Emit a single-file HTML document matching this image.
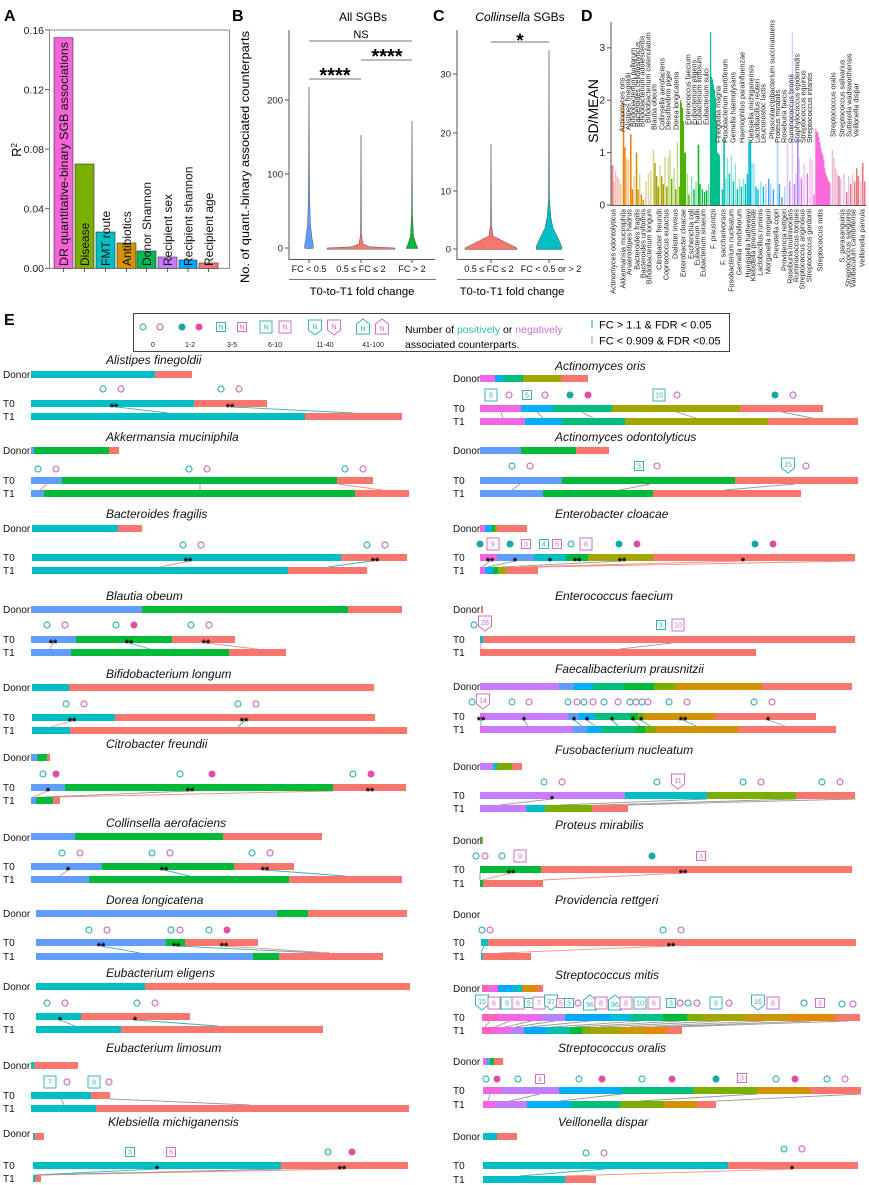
<!DOCTYPE html>
<html><head><meta charset="utf-8">
<style>
html,body{margin:0;padding:0;background:#fff;}
svg{display:block;}
text{font-family:"Liberation Sans",Arial,sans-serif;}
.pl{font-weight:bold;font-size:16px;}
.tk{font-size:10px;fill:#222;}
.lb{font-size:10px;fill:#111;}
.ti{font-size:12px;font-style:italic;fill:#111;}
.st{font-size:11px;font-weight:bold;fill:#000;text-anchor:middle;}
.c{fill:#00BFC4}.r{fill:#F8766D}.b{fill:#619CFF}.g{fill:#00BA38}.m{fill:#F564E3}
.lbl{fill:#00B0F6}.tg{fill:#00BF7D}.o{fill:#A3A500}.p{fill:#C77CFF}.go{fill:#D39200}.yg{fill:#7CAE00}
.oc{fill:none;stroke:#3AB3B3;stroke-width:1.2}
.op{fill:none;stroke:#CF6FC6;stroke-width:1.2}
.fc{fill:#17A8A8}.fp{fill:#DD4FA6}
.sqt{fill:#fff;stroke:#3AB3B3;stroke-width:1}
.sqp{fill:#fff;stroke:#CF6FC6;stroke-width:1}
.nt{font-size:7px;fill:#3AB3B3;text-anchor:middle}
.np{font-size:7px;fill:#CF6FC6;text-anchor:middle}
.lg{stroke:#9a9a9a;stroke-width:0.9}
.lt{stroke:#3AB3B3;stroke-width:0.9}
.lp{stroke:#EE8F88;stroke-width:0.9}
.dl{font-size:7.2px;fill:#222;}
.f{fill-opacity:.45}
</style></head>
<body>
<svg width="869" height="1185" viewBox="0 0 869 1185" xmlns="http://www.w3.org/2000/svg">
<rect width="869" height="1185" fill="#fff"/>

<!-- ============ PANEL A ============ -->
<text class="pl" x="4" y="21">A</text>
<rect x="49.5" y="30" width="180" height="238.3" fill="none" stroke="#888" stroke-width="1"/>
<g stroke="#666" stroke-width="1">
<line x1="45" y1="30" x2="49" y2="30"/><line x1="45" y1="89.6" x2="49" y2="89.6"/><line x1="45" y1="149.2" x2="49" y2="149.2"/><line x1="45" y1="208.7" x2="49" y2="208.7"/><line x1="45" y1="268.3" x2="49" y2="268.3"/>
<line x1="63.5" y1="268" x2="63.5" y2="272"/><line x1="84.5" y1="268" x2="84.5" y2="272"/><line x1="105.5" y1="268" x2="105.5" y2="272"/><line x1="126.5" y1="268" x2="126.5" y2="272"/><line x1="146.5" y1="268" x2="146.5" y2="272"/><line x1="167.5" y1="268" x2="167.5" y2="272"/><line x1="188" y1="268" x2="188" y2="272"/><line x1="208.5" y1="268" x2="208.5" y2="272"/>
</g>
<g class="tk" text-anchor="end" style="font-size:10.5px">
<text x="44" y="34">0.16</text><text x="44" y="93.5">0.12</text><text x="44" y="153">0.08</text><text x="44" y="212.5">0.04</text><text x="44" y="272">0.00</text>
</g>
<text transform="translate(21,150) rotate(-90)" text-anchor="middle" style="font-size:13px">R<tspan dy="-4" style="font-size:8px">2</tspan></text>
<g stroke="#333" stroke-width="0.6">
<rect x="54" y="37.7" width="19" height="230.6" fill="#F564D8"/>
<rect x="75" y="164" width="19" height="104.3" fill="#7CAE00"/>
<rect x="96" y="232" width="19" height="36.3" fill="#00BFC4"/>
<rect x="117" y="243" width="19" height="25.3" fill="#D39200"/>
<rect x="137" y="251" width="19" height="17.3" fill="#00B954"/>
<rect x="158" y="257" width="19" height="11.3" fill="#C77CFF"/>
<rect x="179" y="260" width="18" height="8.3" fill="#00A9FF"/>
<rect x="199" y="263" width="19" height="5.3" fill="#F8766D"/>
</g>
<g style="font-size:12px" fill="#111">
<text transform="translate(67.8,266) rotate(-90)" textLength="224" lengthAdjust="spacingAndGlyphs">DR quantitative-binary SGB associations</text>
<text transform="translate(88.8,266) rotate(-90)">Disease</text>
<text transform="translate(109.8,266) rotate(-90)">FMT route</text>
<text transform="translate(130.8,266) rotate(-90)">Antibiotics</text>
<text transform="translate(150.8,266) rotate(-90)">Donor Shannon</text>
<text transform="translate(171.8,266) rotate(-90)">Recipient sex</text>
<text transform="translate(192.3,266) rotate(-90)">Recipient shannon</text>
<text transform="translate(212.8,266) rotate(-90)">Recipient age</text>
</g>

<!-- ============ PANEL B ============ -->
<text class="pl" x="232" y="21">B</text>
<text x="363" y="21" text-anchor="middle" style="font-size:12px">All SGBs</text>
<text transform="translate(249,157) rotate(-90)" text-anchor="middle" style="font-size:12px" textLength="252" lengthAdjust="spacingAndGlyphs">No. of quant.-binary associated counterparts</text>
<g stroke="#555" stroke-width="1">
<line x1="289" y1="30" x2="289" y2="259.5"/>
<line x1="288.5" y1="259.5" x2="435" y2="259.5"/>
<line x1="285" y1="248" x2="289" y2="248"/><line x1="285" y1="174" x2="289" y2="174"/><line x1="285" y1="100" x2="289" y2="100"/>
<line x1="309" y1="259.5" x2="309" y2="263"/><line x1="361" y1="259.5" x2="361" y2="263"/><line x1="412" y1="259.5" x2="412" y2="263"/>
</g>
<g class="tk" text-anchor="end" style="font-size:9.5px"><text x="283" y="251.5">0</text><text x="283" y="177.5">100</text><text x="283" y="103.5">200</text></g>
<path d="M309,87 L309.6,200 L310.5,225 L312,238 L313.5,246 L313,248.5 L305,248.5 L304.5,246 L306,238 L307.5,225 L308.4,200 Z" fill="#619CFF" stroke="#555" stroke-width="0.5"/>
<path d="M361,135 L361.5,235 L363,244 L370,246.8 L395,248 L395,249.2 L327,249.2 L327,248 L352,246.8 L359,244 L360.5,235 Z" fill="#F8766D" stroke="#555" stroke-width="0.5"/>
<path d="M412,121 L412.5,215 L413.5,236 L416,244 L418,248.5 L406,248.5 L408,244 L410.5,236 L411.5,215 Z" fill="#00BA38" stroke="#555" stroke-width="0.5"/>
<g stroke="#777" stroke-width="1">
<line x1="309" y1="41" x2="412" y2="41"/>
<line x1="309" y1="79" x2="361" y2="79"/>
<line x1="361" y1="60" x2="412" y2="60"/>
</g>
<text x="361" y="38" text-anchor="middle" style="font-size:11px">NS</text>
<text x="335" y="82" text-anchor="middle" style="font-size:20px;font-weight:bold">****</text>
<text x="387" y="63" text-anchor="middle" style="font-size:20px;font-weight:bold">****</text>
<g style="font-size:9px" text-anchor="middle" fill="#111">
<text x="309" y="272">FC &lt; 0.5</text><text x="361" y="272">0.5 ≤ FC ≤ 2</text><text x="412" y="272">FC &gt; 2</text>
</g>
<line x1="289" y1="279.5" x2="436" y2="279.5" stroke="#777" stroke-width="1"/>
<text x="362" y="295" text-anchor="middle" style="font-size:11.3px">T0-to-T1 fold change</text>

<!-- ============ PANEL C ============ -->
<text class="pl" x="433" y="21">C</text>
<text x="520" y="21" text-anchor="middle" style="font-size:12px"><tspan font-style="italic">Collinsella</tspan> SGBs</text>
<g stroke="#555" stroke-width="1">
<line x1="457" y1="30" x2="457" y2="259.5"/>
<line x1="456.5" y1="259.5" x2="564" y2="259.5"/>
<line x1="453" y1="249" x2="457" y2="249"/><line x1="453" y1="191" x2="457" y2="191"/><line x1="453" y1="133" x2="457" y2="133"/><line x1="453" y1="74" x2="457" y2="74"/>
<line x1="491" y1="259.5" x2="491" y2="263"/><line x1="549" y1="259.5" x2="549" y2="263"/>
</g>
<g class="tk" text-anchor="end" style="font-size:9.5px"><text x="451" y="252.5">0</text><text x="451" y="194.5">10</text><text x="451" y="136.5">20</text><text x="451" y="77.5">30</text></g>
<path d="M491,144 L491.5,225 L493,236 L517,248 L517,249.5 L465,249.5 L465,248 L489,236 L490.5,225 Z" fill="#F8766D" stroke="#555" stroke-width="0.5"/>
<path d="M549,50 L549.5,200 L551,218 L553,228 L558,238 L562,247 L561.5,249.5 L536.5,249.5 L536,247 L540,238 L545,228 L547,218 L548.5,200 Z" fill="#00BFC4" stroke="#555" stroke-width="0.5"/>
<line x1="491" y1="42" x2="549" y2="42" stroke="#777" stroke-width="1"/>
<text x="520" y="47" text-anchor="middle" style="font-size:19px;font-weight:bold">*</text>
<g style="font-size:9px" text-anchor="middle" fill="#111">
<text x="489" y="272">0.5 ≤ FC ≤ 2</text><text x="551" y="272">FC &lt; 0.5 or &gt; 2</text>
</g>
<line x1="457" y1="279.5" x2="564" y2="279.5" stroke="#777" stroke-width="1"/>
<text x="512" y="295" text-anchor="middle" style="font-size:11.3px">T0-to-T1 fold change</text>

<!-- ============ PANEL D ============ -->
<text class="pl" x="581" y="21">D</text>
<text transform="translate(598,111) rotate(-90)" text-anchor="middle" style="font-size:14px">SD/MEAN</text>
<g stroke="#555" stroke-width="1">
<line x1="611" y1="22" x2="611" y2="205.5"/>
<line x1="610.5" y1="205.5" x2="866" y2="205.5"/>
<line x1="607" y1="205" x2="611" y2="205"/><line x1="607" y1="152.6" x2="611" y2="152.6"/><line x1="607" y1="100.2" x2="611" y2="100.2"/><line x1="607" y1="47.8" x2="611" y2="47.8"/>
</g>
<g class="tk" text-anchor="end" style="font-size:10px"><text x="605" y="208.5">0</text><text x="605" y="156">1</text><text x="605" y="103.6">2</text><text x="605" y="51.2">3</text></g>
<g transform="matrix(1 0 0 -52.4 0 205)">
<g fill="#F8766D"><rect x="611.7" y="0" width="1.6" height="0.76"/><rect class="f" x="613.3" y="0" width="1.4" height="0.45"/><rect class="f" x="615" y="0" width="1.4" height="0.65"/><rect class="f" x="616.7" y="0" width="1.4" height="0.55"/><rect class="f" x="618.3" y="0" width="1.4" height="0.5"/></g>
<g fill="#E8860C"><rect class="f" x="620" y="0" width="1.4" height="0.4"/><rect x="622.7" y="0" width="1.6" height="1.95"/><rect x="624.3" y="0" width="1.4" height="1.1"/><rect class="f" x="626" y="0" width="1.4" height="0.9"/><rect class="f" x="627.7" y="0" width="1.4" height="0.85"/><rect x="630" y="0" width="1.6" height="1.35"/><rect x="631.7" y="0" width="1.4" height="0.3"/><rect class="f" x="633.3" y="0" width="1.4" height="0.55"/></g>
<g fill="#C99800"><rect x="635.7" y="0" width="1.6" height="1.0"/><rect x="637.3" y="0" width="1.4" height="0.3"/><rect class="f" x="639" y="0" width="1.4" height="0.6"/><rect x="640.7" y="0" width="1.4" height="0.2"/><rect x="642.7" y="0" width="1.4" height="0.1"/><rect class="f" x="645.3" y="0" width="1.4" height="0.45"/><rect class="f" x="647.7" y="0" width="1.4" height="0.6"/></g>
<g fill="#A3A500"><rect class="f" x="650" y="0" width="1.4" height="0.65"/><rect class="f" x="652.7" y="0" width="1.6" height="1.05"/><rect x="654.3" y="0" width="1.4" height="0.8"/><rect x="656" y="0" width="1.4" height="0.55"/><rect x="657.7" y="0" width="1.4" height="0.35"/><rect class="f" x="659.3" y="0" width="1.4" height="0.75"/><rect x="661" y="0" width="1.4" height="0.55"/><rect x="662.7" y="0" width="1.4" height="0.4"/><rect class="f" x="664.3" y="0" width="1.4" height="0.92"/><rect x="666" y="0" width="1.4" height="0.35"/></g>
<g fill="#7CAE00"><rect class="f" x="667.7" y="0" width="1.4" height="0.9"/><rect class="f" x="669.3" y="0" width="1.4" height="1.05"/><rect x="671" y="0" width="1.4" height="0.5"/><rect class="f" x="673.3" y="0" width="1.4" height="0.7"/><rect x="675" y="0" width="1.4" height="0.3"/><rect class="f" x="676.7" y="0" width="1.4" height="1.2"/><rect x="678.7" y="0" width="1.4" height="0.35"/></g>
<g fill="#4CB400"><rect x="680" y="0" width="1.1" height="2.0"/><rect x="681" y="0" width="1.1" height="1.95"/><rect x="682" y="0" width="1.1" height="1.85"/><rect x="683" y="0" width="1.1" height="1.6"/><rect x="684" y="0" width="1.1" height="1.0"/><rect x="685" y="0" width="1.1" height="1.0"/><rect class="f" x="686.7" y="0" width="1.4" height="0.6"/><rect x="688.3" y="0" width="1.4" height="0.2"/></g>
<g fill="#00BA38"><rect class="f" x="691" y="0" width="1.4" height="0.55"/><rect x="693.3" y="0" width="1.4" height="0.3"/><rect class="f" x="695.3" y="0" width="1.4" height="0.45"/><rect x="697.7" y="0" width="1.6" height="1.15"/><rect x="699.3" y="0" width="1.4" height="0.4"/><rect x="701.7" y="0" width="1.4" height="0.3"/><rect x="704" y="0" width="1.4" height="0.25"/><rect x="706" y="0" width="1.4" height="0.28"/><rect class="f" x="708" y="0" width="1.4" height="0.4"/></g>
<g fill="#00C08B"><rect x="710" y="0" width="1.1" height="3.3"/><rect x="711" y="0" width="1.1" height="2.45"/><rect x="712" y="0" width="1.1" height="2.4"/><rect x="713" y="0" width="1.1" height="2.3"/><rect x="714" y="0" width="1.1" height="2.2"/><rect x="715" y="0" width="1.1" height="2.05"/><rect x="716" y="0" width="1.1" height="1.6"/><rect x="717" y="0" width="1.1" height="1.0"/><rect x="718" y="0" width="1.1" height="0.98"/><rect x="719" y="0" width="1.1" height="0.95"/></g>
<g fill="#00C1B0"><rect x="721.7" y="0" width="1.4" height="0.3"/><rect x="723.3" y="0" width="1.6" height="1.3"/><rect class="f" x="725" y="0" width="1.4" height="0.5"/><rect class="f" x="726.7" y="0" width="1.4" height="0.9"/><rect x="728.7" y="0" width="1.4" height="0.6"/><rect class="f" x="730.7" y="0" width="1.4" height="0.95"/><rect x="732.7" y="0" width="1.4" height="0.45"/><rect class="f" x="734.7" y="0" width="1.4" height="0.8"/><rect x="736.7" y="0" width="1.4" height="0.3"/><rect class="f" x="738.7" y="0" width="1.4" height="0.5"/><rect x="740.7" y="0" width="1.4" height="0.35"/><rect class="f" x="742.7" y="0" width="1.4" height="0.5"/><rect x="744.7" y="0" width="1.4" height="0.4"/></g>
<g fill="#00BCD8"><rect x="746.7" y="0" width="1.4" height="0.6"/><rect x="748.3" y="0" width="1.5" height="1.2"/><rect x="749.7" y="0" width="1.5" height="1.2"/><rect class="f" x="751.3" y="0" width="1.4" height="0.8"/><rect class="f" x="753.3" y="0" width="1.4" height="0.8"/><rect x="755.3" y="0" width="1.4" height="0.35"/><rect x="757.3" y="0" width="1.4" height="0.3"/><rect class="f" x="760" y="0" width="1.4" height="0.45"/><rect x="762.7" y="0" width="1.4" height="0.35"/></g>
<g fill="#3DA0FF"><rect class="f" x="765.3" y="0" width="1.4" height="0.4"/><rect x="768" y="0" width="1.4" height="0.5"/><rect class="f" x="770" y="0" width="1.4" height="0.4"/><rect x="772.7" y="0" width="1.4" height="0.3"/><rect class="f" x="776.7" y="0" width="1.6" height="1.2"/><rect x="778.7" y="0" width="1.4" height="0.4"/><rect x="781.3" y="0" width="1.4" height="0.15"/><rect class="f" x="784" y="0" width="1.4" height="0.35"/></g>
<g fill="#B983FF"><rect class="f" x="786.7" y="0" width="1.6" height="1.15"/><rect x="789" y="0" width="1.4" height="0.45"/><rect class="f" x="791.7" y="0" width="1.4" height="3.3"/><rect x="793.7" y="0" width="1.4" height="0.4"/><rect class="f" x="795.3" y="0" width="1.4" height="0.6"/><rect x="797" y="0" width="1.6" height="1.25"/><rect class="f" x="798.7" y="0" width="1.4" height="0.9"/></g>
<g fill="#E76BF3"><rect x="800.7" y="0" width="1.4" height="0.5"/><rect class="f" x="803.3" y="0" width="1.4" height="0.8"/><rect x="806.7" y="0" width="1.4" height="0.6"/><rect class="f" x="809.3" y="0" width="1.4" height="0.9"/><rect class="f" x="811.3" y="0" width="1.4" height="0.85"/><rect x="813.3" y="0" width="1.4" height="0.2"/></g>
<g fill="#FB61D7"><rect x="815.3" y="0" width="1.1" height="1.45"/><rect x="816.3" y="0" width="1.1" height="1.4"/><rect x="817.3" y="0" width="1.1" height="1.38"/><rect x="818.3" y="0" width="1.1" height="1.3"/><rect x="819.3" y="0" width="1.1" height="1.2"/><rect x="820.3" y="0" width="1.1" height="1.1"/><rect x="821.3" y="0" width="1.1" height="1.0"/><rect x="822.3" y="0" width="1.1" height="0.95"/><rect x="823.3" y="0" width="1.1" height="0.85"/><rect x="824.3" y="0" width="1.1" height="0.7"/><rect x="825.3" y="0" width="1.1" height="0.6"/><rect x="826.3" y="0" width="1.1" height="0.55"/><rect x="827.3" y="0" width="1.1" height="0.5"/><rect x="828.3" y="0" width="1.1" height="0.45"/><rect x="829.3" y="0" width="1.1" height="0.42"/></g>
<g fill="#E06D9C"><rect class="f" x="831.7" y="0" width="1.4" height="1.05"/><rect class="f" x="833.3" y="0" width="1.4" height="0.9"/><rect class="f" x="835" y="0" width="1.4" height="0.7"/><rect class="f" x="836.7" y="0" width="1.4" height="0.6"/><rect x="838.3" y="0" width="1.4" height="0.55"/><rect class="f" x="840" y="0" width="1.4" height="0.5"/><rect class="f" x="843.3" y="0" width="1.4" height="0.6"/><rect x="846" y="0" width="1.4" height="0.25"/><rect class="f" x="848" y="0" width="1.4" height="0.55"/><rect x="850" y="0" width="1.4" height="0.4"/></g>
<g fill="#F0707E"><rect class="f" x="852" y="0" width="1.4" height="0.6"/><rect x="854" y="0" width="1.4" height="0.45"/><rect x="856" y="0" width="1.5" height="0.7"/><rect x="857.7" y="0" width="1.4" height="0.55"/><rect class="f" x="860" y="0" width="1.4" height="0.45"/><rect x="862" y="0" width="1.5" height="0.8"/><rect x="864" y="0" width="1.4" height="0.45"/></g>
</g>
<!-- D top labels -->
<g class="dl">
<text transform="translate(624.5,132) rotate(-90)">Actinomyces oris</text>
<text transform="translate(630.5,130) rotate(-90)">Alistipes finegoldii</text>
<text transform="translate(635.5,127) rotate(-90)">Bifidobacterium pullorum</text>
<text transform="translate(640,127) rotate(-90)">Bacteroides cellulosilyticus</text>
<text transform="translate(644.5,127) rotate(-90)">Bifidobacterium adolescentis</text>
<text transform="translate(650.5,123) rotate(-90)">Bifidobacterium catenulatum</text>
<text transform="translate(656.5,130) rotate(-90)">Blautia obeum</text>
<text transform="translate(664.5,130) rotate(-90)">Collinsella aerofaciens</text>
<text transform="translate(670.5,130) rotate(-90)">Desulfovibrio piger</text>
<text transform="translate(678.5,130) rotate(-90)">Dorea longicatena</text>
<text transform="translate(690.5,125) rotate(-90)">Enterococcus faecium</text>
<text transform="translate(696.5,125) rotate(-90)">Eubacterium eligens</text>
<text transform="translate(701.5,125) rotate(-90)">Eubacterium limosum</text>
<text transform="translate(708.5,125) rotate(-90)">Eubacterium sulci</text>
<text transform="translate(720.5,143) rotate(-90)">Finegoldia magna</text>
<text transform="translate(727.5,143) rotate(-90)">Fusobacterium mortiferum</text>
<text transform="translate(735.5,143) rotate(-90)">Gemella haemolysans</text>
<text transform="translate(744.5,143) rotate(-90)">Haemophilus parainfluenzae</text>
<text transform="translate(753.5,143) rotate(-90)">Klebsiella michiganensis</text>
<text transform="translate(759.5,143) rotate(-90)">Lactobacillus reuteri</text>
<text transform="translate(765.5,143) rotate(-90)">Leuconostoc lactis</text>
<text transform="translate(774.5,139) rotate(-90)">Phascolarctobacterium succinatutens</text>
<text transform="translate(780,143) rotate(-90)">Proteus mirabilis</text>
<text transform="translate(786.5,143) rotate(-90)">Roseburia faecis</text>
<text transform="translate(793.5,143) rotate(-90)">Ruminococcus bromii</text>
<text transform="translate(799.5,143) rotate(-90)">Staphylococcus epidermidis</text>
<text transform="translate(805.5,143) rotate(-90)">Streptococcus equinus</text>
<text transform="translate(812,143) rotate(-90)">Streptococcus infantis</text>
<text transform="translate(835.5,137) rotate(-90)">Streptococcus oralis</text>
<text transform="translate(844.5,137) rotate(-90)">Streptococcus salivarius</text>
<text transform="translate(851.5,137) rotate(-90)">Sutterella wadsworthensis</text>
<text transform="translate(858.5,137) rotate(-90)">Veillonella dispar</text>
</g>
<!-- D bottom labels -->
<g class="dl" text-anchor="end">
<text transform="translate(615.5,209) rotate(-90)">Actinomyces odontolyticus</text>
<text transform="translate(625.5,209) rotate(-90)">Akkermansia muciniphila</text>
<text transform="translate(631.5,209) rotate(-90)">Anaerostipes hadrus</text>
<text transform="translate(639.5,209) rotate(-90)">Bacteroides fragilis</text>
<text transform="translate(645.5,209) rotate(-90)">Bacteroides uniformis</text>
<text transform="translate(651.5,209) rotate(-90)">Bifidobacterium longum</text>
<text transform="translate(661.5,209) rotate(-90)">Citrobacter freundii</text>
<text transform="translate(668.5,209) rotate(-90)">Coprococcus eutactus</text>
<text transform="translate(677.5,209) rotate(-90)">Dialister invisus</text>
<text transform="translate(685.5,209) rotate(-90)">Enterobacter cloacae</text>
<text transform="translate(693.5,209) rotate(-90)">Escherichia coli</text>
<text transform="translate(699.5,209) rotate(-90)">Eubacterium hallii</text>
<text transform="translate(705.5,209) rotate(-90)">Eubacterium siraeum</text>
<text transform="translate(715.5,209) rotate(-90)">F. prausnitzii</text>
<text transform="translate(725.5,209) rotate(-90)">F. saccharivorans</text>
<text transform="translate(733.5,209) rotate(-90)">Fusobacterium nucleatum</text>
<text transform="translate(741.5,209) rotate(-90)">Gemella morbillorum</text>
<text transform="translate(750.5,209) rotate(-90)">Hungatella hathewayi</text>
<text transform="translate(755.5,209) rotate(-90)">Klebsiella pneumoniae</text>
<text transform="translate(762.5,209) rotate(-90)">Lactobacillus ruminis</text>
<text transform="translate(770.5,209) rotate(-90)">Morganella morganii</text>
<text transform="translate(778.5,209) rotate(-90)">Prevotella copri</text>
<text transform="translate(786.5,209) rotate(-90)">Providencia rettgeri</text>
<text transform="translate(792.5,209) rotate(-90)">Roseburia inulinivorans</text>
<text transform="translate(798.5,209) rotate(-90)">Ruminococcus torques</text>
<text transform="translate(804.5,209) rotate(-90)">Streptococcus anginosus</text>
<text transform="translate(811.5,209) rotate(-90)">Streptococcus gordonii</text>
<text transform="translate(822.5,209) rotate(-90)">Streptococcus mitis</text>
<text transform="translate(844.5,209) rotate(-90)">S. parasanguinis</text>
<text transform="translate(850.5,209) rotate(-90)">Streptococcus sanguinis</text>
<text transform="translate(855.5,209) rotate(-90)">Varibaculum cambriense</text>
<text transform="translate(864.5,209) rotate(-90)">Veillonella parvula</text>
</g>

<!-- ============ PANEL E ============ -->
<text class="pl" x="4" y="325">E</text>
<rect x="133.5" y="313.5" width="596" height="38" fill="#fff" stroke="#444" stroke-width="1"/>
<circle class="oc" cx="143" cy="327" r="3"/><circle class="op" cx="160" cy="327" r="3"/>
<circle class="fc" cx="182" cy="327" r="3.5"/><circle class="fp" cx="199" cy="327" r="3.5"/>
<rect class="sqt" x="216.5" y="322.5" width="9" height="9"/><text class="nt" x="221" y="329.5">N</text>
<rect class="sqp" x="237.5" y="322.5" width="9" height="9"/><text class="np" x="242" y="329.5">N</text>
<rect class="sqt" x="260" y="321" width="12" height="12"/><text class="nt" x="266" y="329.5">N</text>
<rect class="sqp" x="279" y="321" width="12" height="12"/><text class="np" x="285" y="329.5">N</text>
<path class="sqt" d="M308.5,320 h13 v10 l-6.5,5 l-6.5,-5 z"/><text class="nt" x="315" y="329">N</text>
<path class="sqp" d="M327.5,320 h13 v10 l-6.5,5 l-6.5,-5 z"/><text class="np" x="334" y="329">N</text>
<path class="sqt" d="M356.5,334 h13 v-10 l-6.5,-5 l-6.5,5 z"/><text class="nt" x="363" y="331">N</text>
<path class="sqp" d="M375.5,334 h13 v-10 l-6.5,-5 l-6.5,5 z"/><text class="np" x="382" y="331">N</text>
<g style="font-size:7px" text-anchor="middle" fill="#222">
<text x="153" y="347">0</text><text x="190" y="347">1-2</text><text x="232" y="347">3-5</text><text x="275" y="347">6-10</text><text x="325" y="347">11-40</text><text x="373" y="347">41-100</text>
</g>
<text x="405" y="333" style="font-size:10.5px">Number of <tspan fill="#3AB3B3">positively</tspan> or <tspan fill="#CF6FC6">negatively</tspan></text>
<text x="405" y="348" style="font-size:10.5px">associated counterparts.</text>
<line x1="592" y1="320" x2="592" y2="328" stroke="#3AB3B3" stroke-width="1.2"/>
<line x1="592" y1="336" x2="592" y2="344" stroke="#EE8F88" stroke-width="1.2"/>
<text x="599" y="328.5" style="font-size:11px">FC &gt; 1.1 &amp; FDR &lt; 0.05</text>
<text x="599" y="344.5" style="font-size:11px">FC &lt; 0.909 &amp; FDR &lt;0.05</text>

<!-- ---------- LEFT COLUMN ---------- -->
<!-- L1 Alistipes -->
<text class="ti" x="106" y="364">Alistipes finegoldii</text>
<text class="lb" x="3" y="378">Donor</text><text class="lb" x="3" y="407">T0</text><text class="lb" x="3" y="420">T1</text>
<rect class="c" x="31" y="371" width="124" height="7"/><rect class="r" x="155" y="371" width="37" height="7"/>
<circle class="oc" cx="103" cy="389" r="3"/><circle class="op" cx="121" cy="389" r="3"/><circle class="oc" cx="221" cy="389" r="3"/><circle class="op" cx="239" cy="389" r="3"/>
<line class="lt" x1="117" y1="407" x2="168" y2="413"/><line class="lt" x1="233" y1="407" x2="353" y2="413"/>
<rect class="c" x="31" y="400" width="163" height="7"/><rect class="r" x="194" y="400" width="73" height="7"/>
<rect class="c" x="31" y="413" width="274" height="7"/><rect class="r" x="305" y="413" width="97" height="7"/>
<text class="st" x="114" y="411">**</text><text class="st" x="230" y="411">**</text>

<!-- L2 Akkermansia -->
<text class="ti" x="106" y="441">Akkermansia muciniphila</text>
<text class="lb" x="3" y="454">Donor</text><text class="lb" x="3" y="484">T0</text><text class="lb" x="3" y="497">T1</text>
<rect class="b" x="31" y="447" width="3" height="7"/><rect class="g" x="34" y="447" width="75" height="7"/><rect class="r" x="109" y="447" width="10" height="7"/>
<circle class="oc" cx="38" cy="469" r="3"/><circle class="op" cx="56" cy="469" r="3"/><circle class="oc" cx="189" cy="469" r="3"/><circle class="op" cx="207" cy="469" r="3"/><circle class="oc" cx="345" cy="469" r="3"/><circle class="op" cx="363" cy="469" r="3"/>
<line class="lp" x1="47" y1="484" x2="40" y2="490"/><line class="lg" x1="200" y1="484" x2="200" y2="490"/><line class="lp" x1="338" y1="484" x2="382" y2="490"/>
<rect class="b" x="31" y="477" width="31" height="7"/><rect class="g" x="62" y="477" width="275" height="7"/><rect class="r" x="337" y="477" width="36" height="7"/>
<rect class="b" x="31" y="490" width="13" height="7"/><rect class="g" x="44" y="490" width="311" height="7"/><rect class="r" x="355" y="490" width="54" height="7"/>

<!-- L3 Bacteroides -->
<text class="ti" x="106" y="518">Bacteroides fragilis</text>
<text class="lb" x="3" y="532">Donor</text><text class="lb" x="3" y="561">T0</text><text class="lb" x="3" y="574">T1</text>
<rect class="c" x="32" y="525" width="86" height="7"/><rect class="r" x="118" y="525" width="24" height="7"/>
<circle class="oc" cx="183" cy="545" r="3"/><circle class="op" cx="201" cy="545" r="3"/><circle class="oc" cx="367" cy="545" r="3"/><circle class="op" cx="385" cy="545" r="3"/>
<line class="lp" x1="190" y1="561" x2="160" y2="567"/><line class="lt" x1="372" y1="561" x2="328" y2="567"/>
<rect class="c" x="32" y="554" width="309" height="7"/><rect class="r" x="341" y="554" width="66" height="7"/>
<rect class="c" x="32" y="567" width="256" height="7"/><rect class="r" x="288" y="567" width="79" height="7"/>
<text class="st" x="188" y="565">**</text><text class="st" x="375" y="565">**</text>

<!-- L4 Blautia -->
<text class="ti" x="106" y="600">Blautia obeum</text>
<text class="lb" x="3" y="613">Donor</text><text class="lb" x="3" y="643">T0</text><text class="lb" x="3" y="656">T1</text>
<rect class="b" x="31" y="606" width="111" height="7"/><rect class="g" x="142" y="606" width="206" height="7"/><rect class="r" x="348" y="606" width="54" height="7"/>
<circle class="oc" cx="47" cy="625" r="3"/><circle class="op" cx="65" cy="625" r="3"/><circle class="oc" cx="116" cy="625" r="3"/><circle class="fp" cx="134" cy="625" r="3.5"/><circle class="oc" cx="191" cy="625" r="3"/><circle class="op" cx="209" cy="625" r="3"/>
<line class="lp" x1="53" y1="643" x2="50" y2="649"/><line class="lt" x1="129" y1="643" x2="150" y2="649"/><line class="lp" x1="206" y1="643" x2="257" y2="649"/>
<rect class="b" x="31" y="636" width="45" height="7"/><rect class="g" x="76" y="636" width="96" height="7"/><rect class="r" x="172" y="636" width="63" height="7"/>
<rect class="b" x="31" y="649" width="40" height="7"/><rect class="g" x="71" y="649" width="158" height="7"/><rect class="r" x="229" y="649" width="57" height="7"/>
<text class="st" x="53" y="647">**</text><text class="st" x="129" y="647">**</text><text class="st" x="206" y="647">**</text>

<!-- L5 Bifidobacterium -->
<text class="ti" x="106" y="678">Bifidobacterium longum</text>
<text class="lb" x="3" y="691">Donor</text><text class="lb" x="3" y="721">T0</text><text class="lb" x="3" y="734">T1</text>
<rect class="c" x="32" y="684" width="37" height="7"/><rect class="r" x="69" y="684" width="305" height="7"/>
<circle class="oc" cx="66" cy="704" r="3"/><circle class="op" cx="84" cy="704" r="3"/><circle class="oc" cx="238" cy="704" r="3"/><circle class="op" cx="256" cy="704" r="3"/>
<line class="lp" x1="72" y1="721" x2="51" y2="727"/><line class="lt" x1="244" y1="721" x2="238" y2="727"/>
<rect class="c" x="32" y="714" width="83" height="7"/><rect class="r" x="115" y="714" width="260" height="7"/>
<rect class="c" x="32" y="727" width="38" height="7"/><rect class="r" x="70" y="727" width="337" height="7"/>
<text class="st" x="72" y="725">**</text><text class="st" x="244" y="725">**</text>

<!-- L6 Citrobacter -->
<text class="ti" x="106" y="748">Citrobacter freundii</text>
<text class="lb" x="3" y="761">Donor</text><text class="lb" x="3" y="791">T0</text><text class="lb" x="3" y="804">T1</text>
<rect class="b" x="31" y="754" width="6" height="7"/><rect class="g" x="37" y="754" width="10" height="7"/><rect class="r" x="47" y="754" width="3" height="7"/>
<circle class="oc" cx="43" cy="774" r="3"/><circle class="fp" cx="56" cy="774" r="3.5"/><circle class="oc" cx="180" cy="774" r="3"/><circle class="fp" cx="212" cy="774" r="3.5"/><circle class="oc" cx="353" cy="774" r="3"/><circle class="fp" cx="371" cy="774" r="3.5"/>
<line class="lp" x1="47" y1="791" x2="33" y2="797"/><line class="lg" x1="190" y1="791" x2="45" y2="797"/><line class="lp" x1="333" y1="791" x2="58" y2="797"/>
<rect class="b" x="31" y="784" width="34" height="7"/><rect class="g" x="65" y="784" width="268" height="7"/><rect class="r" x="333" y="784" width="73" height="7"/>
<rect class="b" x="31" y="797" width="5" height="7"/><rect class="g" x="36" y="797" width="17" height="7"/><rect class="r" x="53" y="797" width="7" height="7"/>
<text class="st" x="48" y="795">*</text><text class="st" x="190" y="795">**</text><text class="st" x="370" y="795">**</text>

<!-- L7 Collinsella -->
<text class="ti" x="106" y="827">Collinsella aerofaciens</text>
<text class="lb" x="3" y="841">Donor</text><text class="lb" x="3" y="870">T0</text><text class="lb" x="3" y="883">T1</text>
<rect class="b" x="31" y="833" width="44" height="7"/><rect class="g" x="75" y="833" width="148" height="7"/><rect class="r" x="223" y="833" width="99" height="7"/>
<circle class="oc" cx="62" cy="853" r="3"/><circle class="op" cx="80" cy="853" r="3"/><circle class="oc" cx="152" cy="853" r="3"/><circle class="op" cx="170" cy="853" r="3"/><circle class="oc" cx="252" cy="853" r="3"/><circle class="op" cx="270" cy="853" r="3"/>
<line class="lp" x1="68" y1="870" x2="60" y2="876"/><line class="lt" x1="164" y1="870" x2="190" y2="876"/><line class="lt" x1="265" y1="870" x2="345" y2="876"/>
<rect class="b" x="31" y="863" width="71" height="7"/><rect class="g" x="102" y="863" width="132" height="7"/><rect class="r" x="234" y="863" width="60" height="7"/>
<rect class="b" x="31" y="876" width="58" height="7"/><rect class="g" x="89" y="876" width="200" height="7"/><rect class="r" x="289" y="876" width="113" height="7"/>
<text class="st" x="68" y="874">*</text><text class="st" x="164" y="874">**</text><text class="st" x="265" y="874">**</text>

<!-- L8 Dorea -->
<text class="ti" x="106" y="904">Dorea longicatena</text>
<text class="lb" x="3" y="917">Donor</text><text class="lb" x="3" y="946">T0</text><text class="lb" x="3" y="960">T1</text>
<rect class="b" x="36" y="910" width="241" height="7"/><rect class="g" x="277" y="910" width="31" height="7"/><rect class="r" x="308" y="910" width="99" height="7"/>
<circle class="oc" cx="89" cy="930" r="3"/><circle class="op" cx="107" cy="930" r="3"/><circle class="oc" cx="171" cy="930" r="3"/><circle class="op" cx="180" cy="930" r="3"/><circle class="oc" cx="209" cy="930" r="3"/><circle class="fp" cx="227" cy="930" r="3.5"/>
<line class="lt" x1="101" y1="946" x2="140" y2="953"/><line class="lt" x1="176" y1="946" x2="320" y2="953"/><line class="lp" x1="224" y1="946" x2="330" y2="953"/>
<rect class="b" x="36" y="939" width="130" height="7"/><rect class="g" x="166" y="939" width="19" height="7"/><rect class="r" x="185" y="939" width="73" height="7"/>
<rect class="b" x="36" y="953" width="217" height="7"/><rect class="g" x="253" y="953" width="26" height="7"/><rect class="r" x="279" y="953" width="104" height="7"/>
<text class="st" x="101" y="950">**</text><text class="st" x="176" y="950">**</text><text class="st" x="224" y="950">**</text>

<!-- L9 Eubacterium eligens -->
<text class="ti" x="106" y="977">Eubacterium eligens</text>
<text class="lb" x="3" y="990">Donor</text><text class="lb" x="3" y="1020">T0</text><text class="lb" x="3" y="1033">T1</text>
<rect class="c" x="36" y="983" width="109" height="7"/><rect class="r" x="145" y="983" width="265" height="7"/>
<circle class="oc" cx="47" cy="1003" r="3"/><circle class="op" cx="65" cy="1003" r="3"/><circle class="oc" cx="137" cy="1003" r="3"/><circle class="op" cx="155" cy="1003" r="3"/>
<line class="lt" x1="60" y1="1020" x2="75" y2="1026"/><line class="lt" x1="135" y1="1020" x2="218" y2="1026"/>
<rect class="c" x="36" y="1013" width="45" height="7"/><rect class="r" x="81" y="1013" width="109" height="7"/>
<rect class="c" x="36" y="1026" width="85" height="7"/><rect class="r" x="121" y="1026" width="202" height="7"/>
<text class="st" x="60" y="1024">*</text><text class="st" x="135" y="1024">*</text>

<!-- L10 Eubacterium limosum -->
<text class="ti" x="106" y="1052">Eubacterium limosum</text>
<text class="lb" x="3" y="1069">Donor</text><text class="lb" x="3" y="1099">T0</text><text class="lb" x="3" y="1112">T1</text>
<rect class="c" x="31" y="1062" width="3" height="7"/><rect class="r" x="34" y="1062" width="44" height="7"/>
<rect class="sqt" x="44" y="1076" width="12" height="12"/><text class="nt" x="50" y="1084.5">7</text>
<circle class="op" cx="67" cy="1082" r="3"/>
<rect class="sqt" x="88" y="1076" width="12" height="12"/><text class="nt" x="94" y="1084.5">9</text>
<circle class="op" cx="109" cy="1082" r="3"/>
<line class="lg" x1="61" y1="1099" x2="64" y2="1105"/><line class="lg" x1="110" y1="1099" x2="250" y2="1105"/>
<rect class="c" x="31" y="1092" width="60" height="7"/><rect class="r" x="91" y="1092" width="19" height="7"/>
<rect class="c" x="31" y="1105" width="65" height="7"/><rect class="r" x="96" y="1105" width="313" height="7"/>

<!-- L11 Klebsiella -->
<text class="ti" x="108" y="1126">Klebsiella michiganensis</text>
<text class="lb" x="3" y="1137">Donor</text><text class="lb" x="3" y="1169">T0</text><text class="lb" x="3" y="1182">T1</text>
<rect class="c" x="33" y="1133" width="1.5" height="7"/><rect class="r" x="34.5" y="1133" width="9.5" height="7"/>
<rect class="sqt" x="125.5" y="1147.5" width="9" height="9"/><text class="nt" x="130" y="1154.5">3</text>
<rect class="sqp" x="166.5" y="1147.5" width="9" height="9"/><text class="np" x="171" y="1154.5">5</text>
<circle class="oc" cx="328" cy="1152" r="3"/><circle class="fp" cx="352" cy="1152" r="3.5"/>
<line class="lt" x1="157" y1="1169" x2="34" y2="1175"/><line class="lp" x1="342" y1="1169" x2="40" y2="1175"/><line class="lg" x1="281" y1="1169" x2="36" y2="1175"/>
<rect class="c" x="33" y="1162" width="248" height="7"/><rect class="r" x="281" y="1162" width="127" height="7"/>
<rect class="c" x="33" y="1175" width="2" height="7"/><rect class="r" x="35" y="1175" width="6" height="7"/>
<text class="st" x="157" y="1173">*</text><text class="st" x="342" y="1173">**</text>

<!-- ---------- RIGHT COLUMN ---------- -->
<!-- R1 Actinomyces oris -->
<text class="ti" x="555" y="370">Actinomyces oris</text>
<text class="lb" x="453" y="382">Donor</text><text class="lb" x="453" y="412">T0</text><text class="lb" x="453" y="425">T1</text>
<rect class="m" x="480" y="375" width="15" height="7"/><rect class="lbl" x="495" y="375" width="8" height="7"/><rect class="tg" x="503" y="375" width="20" height="7"/><rect class="o" x="523" y="375" width="38" height="7"/><rect class="r" x="561" y="375" width="27" height="7"/>
<rect class="sqt" x="485" y="389" width="12" height="12"/><text class="nt" x="491" y="397.5">8</text>
<circle class="op" cx="509" cy="395" r="3"/>
<rect class="sqt" x="522.5" y="390.5" width="9" height="9"/><text class="nt" x="527" y="397.5">5</text>
<circle class="op" cx="545" cy="395" r="3"/><circle class="fc" cx="570" cy="395" r="3.5"/><circle class="fp" cx="588" cy="395" r="3.5"/>
<rect class="sqt" x="653" y="389" width="12" height="12"/><text class="nt" x="659" y="397.5">10</text>
<circle class="op" cx="677" cy="395" r="3"/><circle class="fc" cx="775" cy="395" r="3.5"/><circle class="op" cx="793" cy="395" r="3"/>
<g class="lg"><line x1="501" y1="412" x2="503" y2="418"/><line x1="537" y1="412" x2="543" y2="418"/><line x1="582" y1="412" x2="593" y2="418"/><line x1="676" y1="412" x2="696" y2="418"/><line x1="782" y1="412" x2="812" y2="418"/></g>
<rect class="m" x="480" y="405" width="41" height="7"/><rect class="lbl" x="521" y="405" width="32" height="7"/><rect class="tg" x="553" y="405" width="59" height="7"/><rect class="o" x="612" y="405" width="128" height="7"/><rect class="r" x="740" y="405" width="83" height="7"/>
<rect class="m" x="480" y="418" width="45" height="7"/><rect class="lbl" x="525" y="418" width="37" height="7"/><rect class="tg" x="562" y="418" width="63" height="7"/><rect class="o" x="625" y="418" width="143" height="7"/><rect class="r" x="768" y="418" width="90" height="7"/>

<!-- R2 Actinomyces odontolyticus -->
<text class="ti" x="555" y="441">Actinomyces odontolyticus</text>
<text class="lb" x="453" y="454">Donor</text><text class="lb" x="453" y="484">T0</text><text class="lb" x="453" y="497">T1</text>
<rect class="b" x="480" y="447" width="41" height="7"/><rect class="g" x="521" y="447" width="55" height="7"/><rect class="r" x="576" y="447" width="33" height="7"/>
<circle class="oc" cx="512" cy="466" r="3"/><circle class="op" cx="530" cy="466" r="3"/>
<rect class="sqt" x="634.5" y="461.5" width="9" height="9"/><text class="nt" x="639" y="468.5">3</text>
<circle class="op" cx="657" cy="466" r="3"/>
<path class="sqt" d="M781.5,458 h13 v10 l-6.5,5 l-6.5,-5 z"/><text class="nt" x="788" y="467">15</text>
<circle class="op" cx="806" cy="466" r="3"/>
<g class="lg"><line x1="520" y1="484" x2="512" y2="490"/><line x1="650" y1="484" x2="620" y2="490"/><line x1="795" y1="484" x2="725" y2="490"/></g>
<rect class="b" x="480" y="477" width="82" height="7"/><rect class="g" x="562" y="477" width="173" height="7"/><rect class="r" x="735" y="477" width="123" height="7"/>
<rect class="b" x="480" y="490" width="63" height="7"/><rect class="g" x="543" y="490" width="110" height="7"/><rect class="r" x="653" y="490" width="148" height="7"/>

<!-- R3 Enterobacter cloacae -->
<text class="ti" x="555" y="518">Enterobacter cloacae</text>
<text class="lb" x="453" y="532">Donor</text><text class="lb" x="453" y="561">T0</text><text class="lb" x="453" y="574">T1</text>
<rect class="m" x="480" y="525" width="5" height="7"/><rect class="lbl" x="485" y="525" width="7" height="7"/><rect class="g" x="492" y="525" width="3" height="7"/><rect class="o" x="495" y="525" width="2" height="7"/><rect class="r" x="497" y="525" width="30" height="7"/>
<circle class="fc" cx="480" cy="544" r="3.5"/>
<rect class="sqp" x="487" y="538" width="12" height="12"/><text class="np" x="493" y="546.5">9</text>
<circle class="fc" cx="510" cy="544" r="3.5"/>
<rect class="sqp" x="521.5" y="539.5" width="9" height="9"/><text class="np" x="526" y="546.5">3</text>
<rect class="sqt" x="539.5" y="539.5" width="9" height="9"/><text class="nt" x="544" y="546.5">4</text>
<rect class="sqp" x="552.5" y="539.5" width="9" height="9"/><text class="np" x="557" y="546.5">5</text>
<circle class="oc" cx="571" cy="544" r="3"/>
<rect class="sqp" x="580" y="538" width="12" height="12"/><text class="np" x="586" y="546.5">8</text>
<circle class="fc" cx="619" cy="544" r="3.5"/><circle class="fp" cx="637" cy="544" r="3.5"/><circle class="fc" cx="755" cy="544" r="3.5"/><circle class="fp" cx="773" cy="544" r="3.5"/>
<g class="lg"><line x1="490" y1="561" x2="482" y2="567"/><line x1="515" y1="561" x2="488" y2="567"/><line x1="622" y1="561" x2="502" y2="567"/></g>
<line class="lp" x1="743" y1="561" x2="520" y2="567"/><line class="lp" x1="855" y1="561" x2="538" y2="567"/>
<rect class="m" x="480" y="554" width="17" height="7"/><rect class="b" x="497" y="554" width="37" height="7"/><rect class="c" x="534" y="554" width="32" height="7"/><rect class="g" x="566" y="554" width="22" height="7"/><rect class="o" x="588" y="554" width="65" height="7"/><rect class="r" x="653" y="554" width="202" height="7"/>
<rect class="m" x="480" y="567" width="5" height="7"/><rect class="lbl" x="485" y="567" width="8" height="7"/><rect class="g" x="493" y="567" width="5" height="7"/><rect class="o" x="498" y="567" width="8" height="7"/><rect class="r" x="506" y="567" width="32" height="7"/>
<text class="st" x="490" y="565">**</text><text class="st" x="515" y="565">*</text><text class="st" x="550" y="565">*</text><text class="st" x="577" y="565">**</text><text class="st" x="622" y="565">**</text><text class="st" x="743" y="565">*</text>

<!-- R4 Enterococcus faecium -->
<text class="ti" x="555" y="600">Enterococcus faecium</text>
<text class="lb" x="453" y="613">Donor</text><text class="lb" x="453" y="643">T0</text><text class="lb" x="453" y="656">T1</text>
<rect class="r" x="481" y="606" width="2" height="7"/>
<circle class="oc" cx="474" cy="625" r="3"/>
<path class="sqp" d="M478.5,616 h13 v10 l-6.5,5 l-6.5,-5 z"/><text class="np" x="485" y="625">28</text>
<rect class="sqt" x="656.5" y="620.5" width="9" height="9"/><text class="nt" x="661" y="627.5">3</text>
<rect class="sqp" x="672" y="619" width="12" height="12"/><text class="np" x="678" y="627.5">10</text>
<line class="lp" x1="481" y1="643" x2="481" y2="649"/><line class="lg" x1="672" y1="643" x2="620" y2="649"/>
<rect class="c" x="480" y="636" width="3" height="7"/><rect class="r" x="483" y="636" width="372" height="7"/>
<rect class="r" x="480" y="649" width="276" height="7"/>

<!-- R5 Faecalibacterium -->
<text class="ti" x="555" y="673">Faecalibacterium prausnitzii</text>
<text class="lb" x="453" y="690">Donor</text><text class="lb" x="453" y="720">T0</text><text class="lb" x="453" y="733">T1</text>
<rect class="p" x="480" y="683" width="79" height="7"/><rect class="b" x="559" y="683" width="15" height="7"/><rect class="lbl" x="574" y="683" width="19" height="7"/><rect class="tg" x="593" y="683" width="31" height="7"/><rect class="g" x="624" y="683" width="30" height="7"/><rect class="yg" x="654" y="683" width="21" height="7"/><rect class="go" x="675" y="683" width="87" height="7"/><rect class="r" x="762" y="683" width="90" height="7"/>
<circle class="oc" cx="472" cy="702" r="3"/>
<path class="sqp" d="M476.5,694 h13 v10 l-6.5,5 l-6.5,-5 z"/><text class="np" x="483" y="703">14</text>
<circle class="oc" cx="512" cy="702" r="3"/><circle class="op" cx="529" cy="702" r="3"/><circle class="oc" cx="568" cy="702" r="3"/><circle class="op" cx="577" cy="702" r="3"/><circle class="oc" cx="584" cy="702" r="3"/><circle class="op" cx="593" cy="702" r="3"/><circle class="oc" cx="604" cy="702" r="3"/><circle class="op" cx="618" cy="702" r="3"/><circle class="oc" cx="630" cy="702" r="3"/><circle class="op" cx="636" cy="702" r="3"/><circle class="oc" cx="642" cy="702" r="3"/><circle class="op" cx="648" cy="702" r="3"/><circle class="oc" cx="669" cy="702" r="3"/><circle class="op" cx="687" cy="702" r="3"/><circle class="oc" cx="754" cy="702" r="3"/><circle class="op" cx="772" cy="702" r="3"/>
<g class="lg"><line x1="524" y1="720" x2="528" y2="726"/><line x1="587" y1="720" x2="595" y2="726"/><line x1="633" y1="720" x2="640" y2="726"/><line x1="768" y1="720" x2="785" y2="726"/></g>
<g class="lt"><line x1="481" y1="720" x2="481" y2="726"/><line x1="574" y1="720" x2="582" y2="726"/><line x1="612" y1="720" x2="618" y2="726"/><line x1="641" y1="720" x2="650" y2="726"/><line x1="683" y1="720" x2="696" y2="726"/></g>
<rect class="m" x="480" y="713" width="2" height="7"/><rect class="p" x="482" y="713" width="86" height="7"/><rect class="b" x="568" y="713" width="11" height="7"/><rect class="lbl" x="579" y="713" width="16" height="7"/><rect class="tg" x="595" y="713" width="35" height="7"/><rect class="g" x="630" y="713" width="8" height="7"/><rect class="yg" x="638" y="713" width="7" height="7"/><rect class="go" x="645" y="713" width="70" height="7"/><rect class="r" x="715" y="713" width="101" height="7"/>
<rect class="m" x="480" y="726" width="3" height="7"/><rect class="p" x="483" y="726" width="90" height="7"/><rect class="b" x="573" y="726" width="14" height="7"/><rect class="lbl" x="587" y="726" width="15" height="7"/><rect class="tg" x="602" y="726" width="33" height="7"/><rect class="g" x="635" y="726" width="10" height="7"/><rect class="yg" x="645" y="726" width="11" height="7"/><rect class="go" x="656" y="726" width="82" height="7"/><rect class="r" x="738" y="726" width="98" height="7"/>
<text class="st" x="481" y="724">**</text><text class="st" x="524" y="724">*</text><text class="st" x="574" y="724">*</text><text class="st" x="587" y="724">*</text><text class="st" x="612" y="724">*</text><text class="st" x="633" y="724">*</text><text class="st" x="641" y="724">*</text><text class="st" x="683" y="724">**</text><text class="st" x="768" y="724">*</text>

<!-- R6 Fusobacterium -->
<text class="ti" x="555" y="754">Fusobacterium nucleatum</text>
<text class="lb" x="453" y="770">Donor</text><text class="lb" x="453" y="799">T0</text><text class="lb" x="453" y="812">T1</text>
<rect class="p" x="480" y="763" width="13" height="7"/><rect class="c" x="493" y="763" width="4" height="7"/><rect class="yg" x="497" y="763" width="15" height="7"/><rect class="r" x="512" y="763" width="10" height="7"/>
<circle class="oc" cx="544" cy="782" r="3"/><circle class="op" cx="562" cy="782" r="3"/><circle class="oc" cx="657" cy="782" r="3"/>
<path class="sqp" d="M671.5,774 h13 v10 l-6.5,5 l-6.5,-5 z"/><text class="np" x="678" y="783">11</text>
<circle class="oc" cx="743" cy="782" r="3"/><circle class="op" cx="761" cy="782" r="3"/><circle class="oc" cx="822" cy="782" r="3"/><circle class="op" cx="840" cy="782" r="3"/>
<g class="lg"><line x1="552" y1="799" x2="500" y2="805"/><line x1="707" y1="799" x2="560" y2="805"/><line x1="796" y1="799" x2="600" y2="805"/><line x1="855" y1="799" x2="628" y2="805"/></g>
<rect class="p" x="480" y="792" width="145" height="7"/><rect class="c" x="625" y="792" width="82" height="7"/><rect class="yg" x="707" y="792" width="89" height="7"/><rect class="r" x="796" y="792" width="59" height="7"/>
<rect class="p" x="480" y="805" width="46" height="7"/><rect class="c" x="526" y="805" width="19" height="7"/><rect class="yg" x="545" y="805" width="47" height="7"/><rect class="r" x="592" y="805" width="36" height="7"/>
<text class="st" x="552" y="803">*</text>

<!-- R7 Proteus -->
<text class="ti" x="555" y="829">Proteus mirabilis</text>
<text class="lb" x="453" y="844">Donor</text><text class="lb" x="453" y="873">T0</text><text class="lb" x="453" y="887">T1</text>
<rect class="g" x="480" y="837" width="1.5" height="7"/><rect class="r" x="481.5" y="837" width="1.5" height="7"/>
<circle class="oc" cx="476" cy="856" r="3"/><circle class="op" cx="485" cy="856" r="3"/><circle class="oc" cx="502" cy="856" r="3"/>
<rect class="sqp" x="514" y="850" width="12" height="12"/><text class="np" x="520" y="858.5">9</text>
<circle class="fc" cx="652" cy="856" r="3.5"/>
<rect class="sqp" x="696.5" y="851.5" width="9" height="9"/><text class="np" x="701" y="858.5">3</text>
<line class="lt" x1="480" y1="873" x2="480" y2="880"/><line class="lp" x1="511" y1="873" x2="482" y2="880"/><line class="lp" x1="683" y1="873" x2="543" y2="880"/>
<rect class="g" x="480" y="866" width="61" height="7"/><rect class="r" x="541" y="866" width="311" height="7"/>
<rect class="g" x="480" y="880" width="3" height="7"/><rect class="r" x="483" y="880" width="60" height="7"/>
<text class="st" x="511" y="877">**</text><text class="st" x="683" y="877">**</text>

<!-- R8 Providencia -->
<text class="ti" x="555" y="904">Providencia rettgeri</text>
<text class="lb" x="453" y="918">Donor</text><text class="lb" x="453" y="946">T0</text><text class="lb" x="453" y="960">T1</text>
<circle class="oc" cx="482" cy="930" r="3"/><circle class="op" cx="490" cy="930" r="3"/><circle class="oc" cx="663" cy="930" r="3"/><circle class="op" cx="681" cy="930" r="3"/>
<line class="lt" x1="484" y1="946" x2="481" y2="953"/><line class="lp" x1="671" y1="946" x2="500" y2="953"/>
<rect class="c" x="481" y="939" width="7" height="7"/><rect class="r" x="488" y="939" width="368" height="7"/>
<rect class="c" x="481" y="953" width="1.5" height="7"/><rect class="r" x="482.5" y="953" width="48.5" height="7"/>
<text class="st" x="671" y="950">**</text>

<!-- R9 Streptococcus mitis -->
<text class="ti" x="555" y="979">Streptococcus mitis</text>
<text class="lb" x="453" y="992">Donor</text><text class="lb" x="453" y="1021">T0</text><text class="lb" x="453" y="1034">T1</text>
<rect x="482" y="985" width="6" height="7" fill="#FF62BC"/><rect class="m" x="488" y="985" width="10" height="7"/><rect x="498" y="985" width="14" height="7" fill="#00A9FF"/><rect class="c" x="512" y="985" width="10" height="7"/><rect x="522" y="985" width="15" height="7" fill="#D89000"/><rect class="r" x="537" y="985" width="6" height="7"/>
<path class="sqt" d="M475.5,995 h13 v10 l-6.5,5 l-6.5,-5 z"/><text class="nt" x="482" y="1004">15</text>
<rect class="sqp" x="488" y="997" width="12" height="12"/><text class="np" x="494" y="1005.5">6</text>
<rect class="sqt" x="501" y="997" width="12" height="12"/><text class="nt" x="507" y="1005.5">9</text>
<rect class="sqp" x="512" y="997" width="12" height="12"/><text class="np" x="518" y="1005.5">6</text>
<rect class="sqt" x="524.5" y="998.5" width="9" height="9"/><text class="nt" x="529" y="1005.5">5</text>
<rect class="sqp" x="533" y="997" width="12" height="12"/><text class="np" x="539" y="1005.5">7</text>
<path class="sqt" d="M544.5,995 h13 v10 l-6.5,5 l-6.5,-5 z"/><text class="nt" x="551" y="1004">37</text>
<rect class="sqp" x="556.5" y="998.5" width="9" height="9"/><text class="np" x="561" y="1005.5">5</text>
<rect class="sqt" x="564.5" y="998.5" width="9" height="9"/><text class="nt" x="569" y="1005.5">3</text>
<circle class="op" cx="578" cy="1003" r="3"/>
<path class="sqt" d="M583.5,1010 h13 v-10 l-6.5,-5 l-6.5,5 z"/><text class="nt" x="590" y="1007">96</text>
<rect class="sqp" x="595" y="997" width="12" height="12"/><text class="np" x="601" y="1005.5">8</text>
<path class="sqt" d="M608.5,1010 h13 v-10 l-6.5,-5 l-6.5,5 z"/><text class="nt" x="615" y="1007">86</text>
<rect class="sqp" x="620" y="997" width="12" height="12"/><text class="np" x="626" y="1005.5">8</text>
<rect class="sqt" x="634" y="997" width="12" height="12"/><text class="nt" x="640" y="1005.5">10</text>
<rect class="sqp" x="648" y="997" width="12" height="12"/><text class="np" x="654" y="1005.5">6</text>
<rect class="sqt" x="666.5" y="998.5" width="9" height="9"/><text class="nt" x="671" y="1005.5">3</text>
<circle class="op" cx="680" cy="1003" r="3"/><circle class="oc" cx="688" cy="1003" r="3"/><circle class="op" cx="697" cy="1003" r="3"/>
<rect class="sqt" x="710" y="997" width="12" height="12"/><text class="nt" x="716" y="1005.5">9</text>
<circle class="op" cx="729" cy="1003" r="3"/>
<path class="sqt" d="M751.5,995 h13 v10 l-6.5,5 l-6.5,-5 z"/><text class="nt" x="758" y="1004">16</text>
<rect class="sqp" x="767" y="997" width="12" height="12"/><text class="np" x="773" y="1005.5">8</text>
<circle class="oc" cx="804" cy="1003" r="3"/>
<rect class="sqp" x="815.5" y="998.5" width="9" height="9"/><text class="np" x="820" y="1005.5">3</text>
<circle class="oc" cx="842" cy="1004" r="3"/><circle class="op" cx="853" cy="1004" r="3"/>
<g class="lg"><line x1="490" y1="1021" x2="485" y2="1027"/><line x1="510" y1="1021" x2="495" y2="1027"/><line x1="532" y1="1021" x2="505" y2="1027"/><line x1="555" y1="1021" x2="515" y2="1027"/><line x1="590" y1="1021" x2="530" y2="1027"/><line x1="640" y1="1021" x2="552" y2="1027"/><line x1="680" y1="1021" x2="575" y2="1027"/><line x1="720" y1="1021" x2="600" y2="1027"/><line x1="765" y1="1021" x2="630" y2="1027"/><line x1="810" y1="1021" x2="655" y2="1027"/><line x1="848" y1="1021" x2="675" y2="1027"/></g>
<rect x="482" y="1014" width="16" height="7" fill="#FF62BC"/><rect x="498" y="1014" width="25" height="7" fill="#F564E3"/><rect x="523" y="1014" width="19" height="7" fill="#E76BF3"/><rect x="542" y="1014" width="23" height="7" fill="#B983FF"/><rect x="565" y="1014" width="45" height="7" fill="#00A9FF"/><rect x="610" y="1014" width="20" height="7" fill="#00BCD8"/><rect x="630" y="1014" width="33" height="7" fill="#00C08B"/><rect x="663" y="1014" width="24" height="7" fill="#00BA38"/><rect x="687" y="1014" width="15" height="7" fill="#7CAE00"/><rect x="702" y="1014" width="43" height="7" fill="#A3A500"/><rect x="745" y="1014" width="42" height="7" fill="#C99800"/><rect x="787" y="1014" width="48" height="7" fill="#E38900"/><rect x="835" y="1014" width="25" height="7" fill="#F8766D"/>
<rect x="482" y="1027" width="10" height="7" fill="#FF62BC"/><rect x="492" y="1027" width="10" height="7" fill="#F564E3"/><rect x="502" y="1027" width="10" height="7" fill="#E76BF3"/><rect x="512" y="1027" width="12" height="7" fill="#B983FF"/><rect x="524" y="1027" width="23" height="7" fill="#00A9FF"/><rect x="547" y="1027" width="23" height="7" fill="#00C0B0"/><rect x="570" y="1027" width="12" height="7" fill="#00BA38"/><rect x="582" y="1027" width="8" height="7" fill="#7CAE00"/><rect x="590" y="1027" width="30" height="7" fill="#A3A500"/><rect x="620" y="1027" width="23" height="7" fill="#C99800"/><rect x="643" y="1027" width="24" height="7" fill="#E38900"/><rect x="667" y="1027" width="15" height="7" fill="#F8766D"/>

<!-- R10 Streptococcus oralis -->
<text class="ti" x="558" y="1052">Streptococcus oralis</text>
<text class="lb" x="453" y="1065">Donor</text><text class="lb" x="453" y="1094">T0</text><text class="lb" x="453" y="1108">T1</text>
<rect class="m" x="483" y="1058" width="3" height="7"/><rect class="b" x="486" y="1058" width="4" height="7"/><rect class="g" x="490" y="1058" width="4" height="7"/><rect class="r" x="494" y="1058" width="9" height="7"/>
<circle class="oc" cx="486" cy="1079" r="3"/><circle class="fp" cx="497" cy="1079" r="3.5"/><circle class="oc" cx="518" cy="1079" r="3"/>
<rect class="sqp" x="535.5" y="1074.5" width="9" height="9"/><text class="np" x="540" y="1081.5">4</text>
<circle class="oc" cx="579" cy="1079" r="3"/><circle class="fp" cx="602" cy="1079" r="3.5"/><circle class="oc" cx="642" cy="1079" r="3"/><circle class="fp" cx="672" cy="1079" r="3.5"/><circle class="fc" cx="716" cy="1079" r="3.5"/>
<rect class="sqp" x="737.5" y="1073.5" width="9" height="9"/><text class="np" x="742" y="1080.5">3</text>
<circle class="oc" cx="776" cy="1079" r="3"/><circle class="fp" cx="795" cy="1079" r="3.5"/><circle class="oc" cx="827" cy="1079" r="3"/><circle class="op" cx="845" cy="1079" r="3"/>
<g class="lg"><line x1="490" y1="1094" x2="488" y2="1101"/><line x1="540" y1="1094" x2="510" y2="1101"/><line x1="622" y1="1094" x2="560" y2="1101"/><line x1="757" y1="1094" x2="640" y2="1101"/><line x1="861" y1="1094" x2="716" y2="1101"/></g>
<rect class="m" x="483" y="1087" width="18" height="7"/><rect class="p" x="501" y="1087" width="58" height="7"/><rect class="lbl" x="559" y="1087" width="63" height="7"/><rect class="tg" x="622" y="1087" width="71" height="7"/><rect class="yg" x="693" y="1087" width="64" height="7"/><rect class="go" x="757" y="1087" width="53" height="7"/><rect class="r" x="810" y="1087" width="51" height="7"/>
<rect class="m" x="483" y="1101" width="12" height="7"/><rect class="p" x="495" y="1101" width="32" height="7"/><rect class="lbl" x="527" y="1101" width="44" height="7"/><rect class="tg" x="571" y="1101" width="49" height="7"/><rect class="yg" x="620" y="1101" width="44" height="7"/><rect class="go" x="664" y="1101" width="33" height="7"/><rect class="r" x="697" y="1101" width="19" height="7"/>

<!-- R11 Veillonella -->
<text class="ti" x="558" y="1126">Veillonella dispar</text>
<text class="lb" x="453" y="1140">Donor</text><text class="lb" x="453" y="1169">T0</text><text class="lb" x="453" y="1183">T1</text>
<rect class="c" x="483" y="1133" width="14" height="7"/><rect class="r" x="497" y="1133" width="20" height="7"/>
<circle class="oc" cx="586" cy="1153" r="3"/><circle class="op" cx="604" cy="1153" r="3"/><circle class="oc" cx="784" cy="1149" r="3"/><circle class="op" cx="802" cy="1149" r="3"/>
<line class="lt" x1="605" y1="1169" x2="520" y2="1176"/><line class="lp" x1="792" y1="1169" x2="565" y2="1176"/>
<rect class="c" x="483" y="1162" width="245" height="7"/><rect class="r" x="728" y="1162" width="130" height="7"/>
<rect class="c" x="483" y="1176" width="82" height="7"/><rect class="r" x="565" y="1176" width="31" height="7"/>
<text class="st" x="792" y="1173">*</text>
</svg>
</body></html>
